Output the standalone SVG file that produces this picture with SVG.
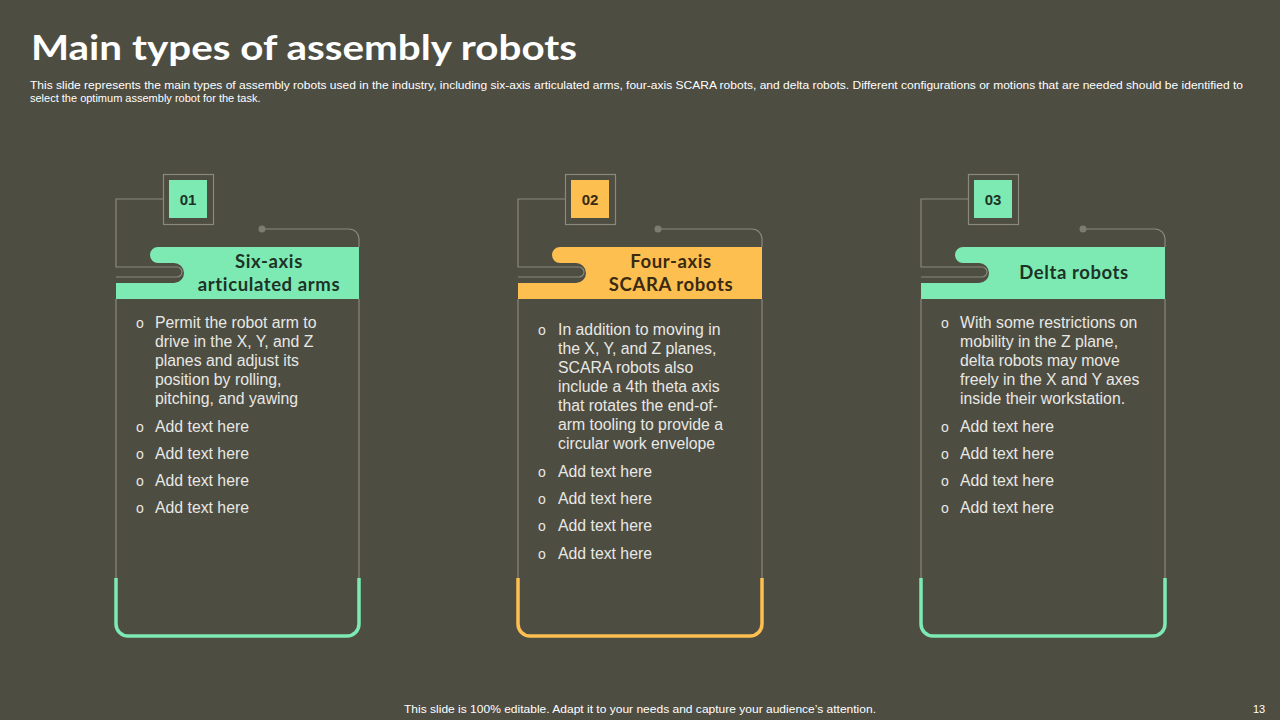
<svg xmlns="http://www.w3.org/2000/svg" width="1280" height="720" viewBox="0 0 1280 720">
<defs>
<style>
.bg{fill:#4e4d42}
.ln{fill:none;stroke:#8a897e;stroke-width:1.2}
.dot{fill:#7d7c72}
.title{font-family:"Century Gothic","Lato","Liberation Sans",sans-serif;font-weight:700;font-size:34px;fill:#ffffff}
.sub{font-family:"Liberation Sans",Arial,sans-serif;font-size:11px;fill:#ffffff}
.body{font-family:"Liberation Sans",Arial,sans-serif;font-size:15.8px;fill:#e8e8e4}
.bul{font-family:"Liberation Sans",Arial,sans-serif;font-size:14px;fill:#e8e8e4}
.hd{font-family:"Century Gothic","Lato","Liberation Sans",sans-serif;font-weight:700;font-size:18.5px;letter-spacing:0.6px;text-anchor:middle}
.num{font-family:"Liberation Sans",Arial,sans-serif;font-weight:700;font-size:15px;text-anchor:middle}
.foot{font-family:"Liberation Sans",Arial,sans-serif;font-size:11px;fill:#ffffff}
.g{fill:#7deab4}
.o{fill:#fcbf50}
.gs{fill:none;stroke:#7deab4;stroke-width:3.5}
.os{fill:none;stroke:#fcbf50;stroke-width:3.5}
.dg{fill:#1d3326}
.db{fill:#3a2a12}
</style>
</defs>
<rect class="bg" x="0" y="0" width="1280" height="720"/>
<text class="title" x="31" y="60" textLength="546" lengthAdjust="spacingAndGlyphs">Main types of assembly robots</text>
<text class="sub" x="30" y="89" textLength="1213" lengthAdjust="spacingAndGlyphs">This slide represents the main types of assembly robots used in the industry, including six-axis articulated arms, four-axis SCARA robots, and delta robots. Different configurations or motions that are needed should be identified to</text>
<text class="sub" x="30" y="102">select the optimum assembly robot for the task.</text>

<g id="connectors">
<path class="ln" d="M163,199 H116 V267 H177 A5 5 0 0 1 177 277 H116"/>
<path class="ln" d="M262,229 H349 A10 10 0 0 1 359 239 V247"/>
<path class="ln" d="M116,299 V578 M359,299 V578"/>
<path class="ln" d="M565,199 H518 V267 H579 A5 5 0 0 1 579 277 H518"/>
<path class="ln" d="M658,229 H752 A10 10 0 0 1 762 239 V247"/>
<path class="ln" d="M518,299 V578 M762,299 V578"/>
<path class="ln" d="M968,199 H921 V267 H982 A5 5 0 0 1 982 277 H921"/>
<path class="ln" d="M1083,229 H1155 A10 10 0 0 1 1165 239 V247"/>
<path class="ln" d="M921,299 V578 M1165,299 V578"/>
</g>

<g id="card1">
<rect x="163.5" y="174.5" width="50" height="50" fill="none" stroke="#8a897e" stroke-width="1.2"/>
<rect class="g" x="169" y="180" width="38" height="38"/>
<text class="num dg" x="188" y="205">01</text>
<circle class="dot" cx="262" cy="229" r="3.5"/>
<path class="g" d="M158,247 H359 V299 H116 V283 H174 A10 10 0 0 0 174 263 H158 A8 8 0 0 1 158 247 Z"/>
<text class="hd dg" x="269" y="268">Six-axis</text>
<text class="hd dg" x="269" y="291">articulated arms</text>
<text class="bul" x="136" y="328">o</text>
<text class="body" x="155" y="328">Permit the robot arm to</text>
<text class="body" x="155" y="347">drive in the X, Y, and Z</text>
<text class="body" x="155" y="366">planes and adjust its</text>
<text class="body" x="155" y="385">position by rolling,</text>
<text class="body" x="155" y="404">pitching, and yawing</text>
<text class="bul" x="136" y="432">o</text><text class="body" x="155" y="432">Add text here</text>
<text class="bul" x="136" y="459">o</text><text class="body" x="155" y="459">Add text here</text>
<text class="bul" x="136" y="486">o</text><text class="body" x="155" y="486">Add text here</text>
<text class="bul" x="136" y="513">o</text><text class="body" x="155" y="513">Add text here</text>
<path class="gs" d="M116,578 V624 A12 12 0 0 0 128 636 H347 A12 12 0 0 0 359 624 V578"/>
</g>

<g id="card2">
<rect x="565.5" y="174.5" width="50" height="50" fill="none" stroke="#8a897e" stroke-width="1.2"/>
<rect class="o" x="571" y="180" width="38" height="38"/>
<text class="num db" x="590" y="205">02</text>
<circle class="dot" cx="658" cy="229" r="3.5"/>
<path class="o" d="M560,247 H762 V299 H518 V283 H576 A10 10 0 0 0 576 263 H560 A8 8 0 0 1 560 247 Z"/>
<text class="hd db" x="671" y="268">Four-axis</text>
<text class="hd db" x="671" y="291">SCARA robots</text>
<text class="bul" x="538" y="335">o</text>
<text class="body" x="558" y="335">In addition to moving in</text>
<text class="body" x="558" y="354">the X, Y, and Z planes,</text>
<text class="body" x="558" y="373">SCARA robots also</text>
<text class="body" x="558" y="392">include a 4th theta axis</text>
<text class="body" x="558" y="411">that rotates the end-of-</text>
<text class="body" x="558" y="430">arm tooling to provide a</text>
<text class="body" x="558" y="449">circular work envelope</text>
<text class="bul" x="538" y="477">o</text><text class="body" x="558" y="477">Add text here</text>
<text class="bul" x="538" y="504">o</text><text class="body" x="558" y="504">Add text here</text>
<text class="bul" x="538" y="531">o</text><text class="body" x="558" y="531">Add text here</text>
<text class="bul" x="538" y="559">o</text><text class="body" x="558" y="559">Add text here</text>
<path class="os" d="M518,578 V624 A12 12 0 0 0 530 636 H750 A12 12 0 0 0 762 624 V578"/>
</g>

<g id="card3">
<rect x="968.5" y="174.5" width="50" height="50" fill="none" stroke="#8a897e" stroke-width="1.2"/>
<rect class="g" x="974" y="180" width="38" height="38"/>
<text class="num dg" x="993" y="205">03</text>
<circle class="dot" cx="1083" cy="229" r="3.5"/>
<path class="g" d="M963,247 H1165 V299 H921 V283 H979 A10 10 0 0 0 979 263 H963 A8 8 0 0 1 963 247 Z"/>
<text class="hd dg" x="1074" y="279">Delta robots</text>
<text class="bul" x="941" y="328">o</text>
<text class="body" x="960" y="328">With some restrictions on</text>
<text class="body" x="960" y="347">mobility in the Z plane,</text>
<text class="body" x="960" y="366">delta robots may move</text>
<text class="body" x="960" y="385">freely in the X and Y axes</text>
<text class="body" x="960" y="404">inside their workstation.</text>
<text class="bul" x="941" y="432">o</text><text class="body" x="960" y="432">Add text here</text>
<text class="bul" x="941" y="459">o</text><text class="body" x="960" y="459">Add text here</text>
<text class="bul" x="941" y="486">o</text><text class="body" x="960" y="486">Add text here</text>
<text class="bul" x="941" y="513">o</text><text class="body" x="960" y="513">Add text here</text>
<path class="gs" d="M921,578 V624 A12 12 0 0 0 933 636 H1153 A12 12 0 0 0 1165 624 V578"/>
</g>

<text class="foot" x="404" y="713" textLength="472" lengthAdjust="spacingAndGlyphs">This slide is 100% editable. Adapt it to your needs and capture your audience’s attention.</text>
<text class="foot" x="1259" y="713" text-anchor="middle">13</text>
</svg>
